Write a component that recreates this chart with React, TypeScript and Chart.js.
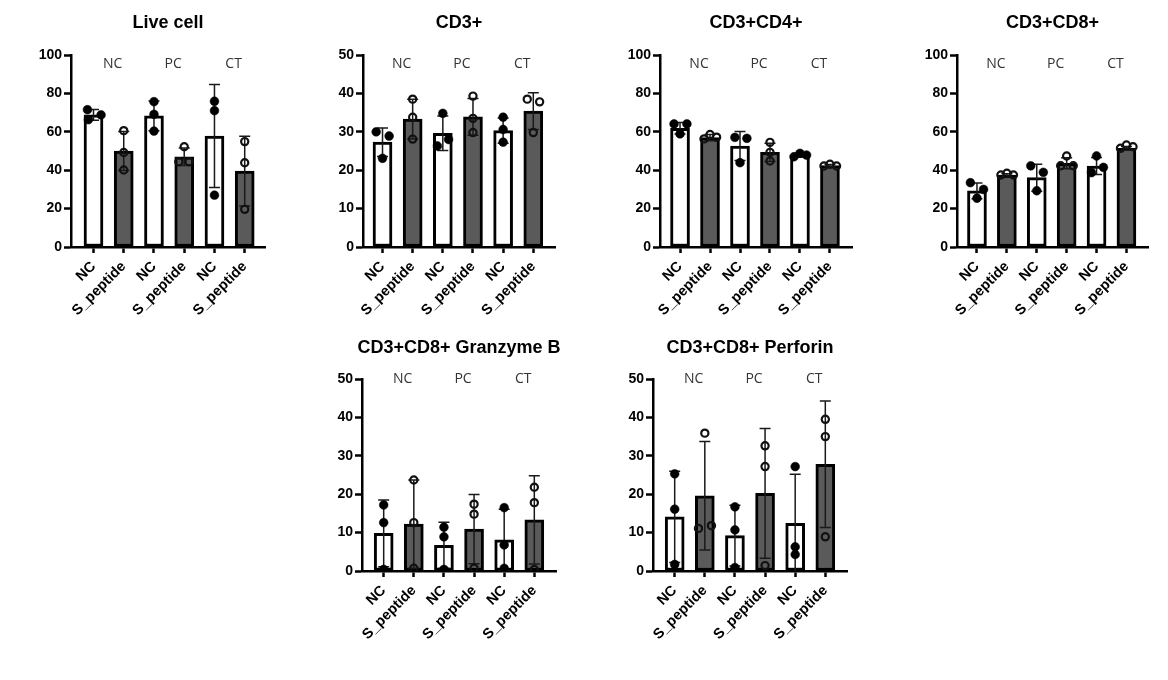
import React, { useEffect, useRef } from 'react';
import { Chart, registerables } from 'chart.js';

Chart.register(...registerables);

const categories = ['NC', 'S_peptide', 'NC', 'S_peptide', 'NC', 'S_peptide'];
const groupLabels = ['NC', 'PC', 'CT'];

// Live cell
const liveMeans = [68.8, 50.0, 68.3, 47.0, 57.8, 39.5];
const liveSD = [2.8, 10.2, 7.7, 4.5, 26.8, 18.2];
const livePoints = [[71.5, 68.8, 66.3], [60.6, 49.2, 40.1], [75.7, 69.1, 60.4], [52.2, 44.4, 44.4], [75.9, 71.0, 27.0], [54.9, 43.9, 19.6]];
const liveJitter = [[-0.2, 0.25, -0.17], [0, 0, 0], [0, 0, 0], [0, -0.18, 0.16], [0, 0, 0], [0, 0, 0]];

// CD3+
const cd3Means = [27.3, 33.3, 29.6, 33.9, 30.3, 35.4];
const cd3SD = [3.7, 5.2, 4.5, 4.8, 3.3, 4.8];
const cd3Points = [[30.0, 28.9, 23.1], [38.5, 33.8, 28.1], [34.8, 26.3, 28.0], [39.3, 33.5, 29.8], [33.8, 30.6, 27.3], [38.5, 37.8, 29.8]];
const cd3Jitter = [[-0.21, 0.22, 0], [0, 0, 0], [0, -0.18, 0.19], [0, 0, 0], [0, 0, 0], [-0.2, 0.21, 0]];

// CD3+CD4+
const cd4Means = [61.8, 57.0, 52.6, 49.3, 47.9, 42.4];
const cd4SD = [3.0, 1.6, 7.5, 4.8, 0.9, 0.6];
const cd4Points = [[64.1, 64.1, 58.9], [56.3, 58.6, 57.2], [57.1, 56.6, 43.9], [54.5, 49.3, 44.8], [47.0, 48.8, 47.9], [42.2, 43.1, 42.2]];
const cd4Jitter = [[-0.2, 0.23, 0], [-0.2, 0, 0.22], [-0.17, 0.23, 0], [0, 0, 0], [-0.2, 0, 0.22], [-0.2, 0, 0.22]];

// CD3+CD8+
const cd8Means = [29.2, 37.5, 36.1, 43.6, 42.2, 51.4];
const cd8SD = [4.1, 0.6, 7.0, 2.9, 4.4, 1.0];
const cd8Points = [[33.5, 30.0, 25.4], [37.5, 38.4, 37.5], [42.3, 38.9, 29.3], [47.4, 42.3, 42.3], [47.4, 41.5, 38.7], [51.4, 53.1, 52.2]];
const cd8Jitter = [[-0.22, 0.22, 0], [-0.2, 0, 0.22], [-0.2, 0.22, 0], [0, -0.2, 0.22], [0, 0.23, -0.17], [-0.2, 0, 0.22]];

// CD3+CD8+ Granzyme B
const gzbMeans = [9.8, 12.2, 6.7, 10.9, 8.1, 13.3];
const gzbSD = [8.7, 11.5, 6.0, 9.0, 8.0, 11.5];
const gzbPoints = [[17.2, 12.6, 0.4], [23.7, 12.6, 0.7], [11.4, 8.9, 0.4], [17.4, 14.8, 0.7], [16.5, 6.8, 0.7], [21.8, 17.8, 0.4]];
const gzbJitter = [[0, 0, 0], [0, 0, 0], [0, 0, 0], [0, 0, 0], [0, 0, 0], [0, 0, 0]];

// CD3+CD8+ Perforin
const prfMeans = [14.1, 19.6, 9.2, 20.2, 12.4, 27.8];
const prfSD = [11.9, 14.1, 7.9, 16.9, 12.8, 16.5];
const prfPoints = [[25.3, 16.1, 1.7], [35.9, 11.1, 11.8], [16.7, 10.7, 0.9], [32.6, 27.2, 1.4], [27.2, 6.3, 4.3], [39.5, 35.0, 8.9]];
const prfJitter = [[0, 0, 0], [0, -0.21, 0.22], [0, 0, 0], [0, 0, 0], [0, 0, 0], [0, 0, 0]];

const FONT = '"Liberation Sans", Arial, Helvetica, sans-serif';
const GROUP_FONT = '"Open Sans", "Noto Sans", sans-serif';
const Y_W = 70;
const PAD_T = 50;
const PAD_R = 12;
const X_H = 75;

type Panel = {
  title: string;
  means: number[];
  sds: number[];
  points: number[][];
  jitter: number[][];
  yMax: number;
  yStep: number;
  box: { left: number; right: number; top: number; bottom: number; xMin: number; xMax: number; groupDy: number; titleDy: number };
};

const panels: Panel[] = [
  { title: 'Live cell', means: liveMeans, sds: liveSD, points: livePoints, jitter: liveJitter, yMax: 100, yStep: 20,
    box: { left: 71, right: 265, top: 55, bottom: 247, xMin: -0.744, xMax: 5.671, groupDy: 9.5, titleDy: 32 } },
  { title: 'CD3+', means: cd3Means, sds: cd3SD, points: cd3Points, jitter: cd3Jitter, yMax: 50, yStep: 10,
    box: { left: 363, right: 555, top: 55, bottom: 247, xMin: -0.647, xMax: 5.72, groupDy: 9.5, titleDy: 32 } },
  { title: 'CD3+CD4+', means: cd4Means, sds: cd4SD, points: cd4Points, jitter: cd4Jitter, yMax: 100, yStep: 20,
    box: { left: 660, right: 852, top: 55, bottom: 247, xMin: -0.668, xMax: 5.735, groupDy: 9.5, titleDy: 32 } },
  { title: 'CD3+CD8+', means: cd8Means, sds: cd8SD, points: cd8Points, jitter: cd8Jitter, yMax: 100, yStep: 20,
    box: { left: 957, right: 1148, top: 55, bottom: 247, xMin: -0.668, xMax: 5.721, groupDy: 9.5, titleDy: 32 } },
  { title: 'CD3+CD8+ Granzyme B', means: gzbMeans, sds: gzbSD, points: gzbPoints, jitter: gzbJitter, yMax: 50, yStep: 10,
    box: { left: 362, right: 556, top: 379, bottom: 571, xMin: -0.72, xMax: 5.72, groupDy: 0, titleDy: 31 } },
  { title: 'CD3+CD8+ Perforin', means: prfMeans, sds: prfSD, points: prfPoints, jitter: prfJitter, yMax: 50, yStep: 10,
    box: { left: 653, right: 847, top: 379, bottom: 571, xMin: -0.72, xMax: 5.72, groupDy: 0, titleDy: 31 } },
];

function ChartPanel({ p }: { p: Panel }) {
  const ref = useRef<HTMLCanvasElement>(null);
  const b = p.box;
  const w = b.right + PAD_R - (b.left - Y_W);
  const h = b.bottom - b.top + PAD_T + X_H;

  useEffect(() => {
    if (!ref.current) return;
    const barData = p.means.map((m, i) => ({ x: i, y: m }));
    const ncPts: { x: number; y: number }[] = [];
    const spPts: { x: number; y: number }[] = [];
    p.points.forEach((arr, i) => {
      arr.forEach((v, k) => {
        const pt = { x: i + p.jitter[i][k], y: v };
        if (i % 2 === 0) ncPts.push(pt);
        else spPts.push(pt);
      });
    });

    const errPlugin = {
      id: 'errbars',
      afterDatasetDraw(chart: any, args: any) {
        if (args.meta.type !== 'bar') return;
        const ctx = chart.ctx;
        const ys = chart.scales.y;
        ctx.save();
        ctx.strokeStyle = '#1a1a1a';
        ctx.lineWidth = 1.5;
        args.meta.data.forEach((el: any, i: number) => {
          const m = p.means[i];
          const sd = p.sds[i];
          const x = el.x;
          const yt = ys.getPixelForValue(m + sd);
          const lowV = m - sd;
          const yb = ys.getPixelForValue(Math.max(lowV, 0));
          ctx.beginPath();
          ctx.moveTo(x, yt);
          ctx.lineTo(x, yb);
          ctx.moveTo(x - 5.5, yt);
          ctx.lineTo(x + 5.5, yt);
          if (lowV > 0) {
            ctx.moveTo(x - 5.5, yb);
            ctx.lineTo(x + 5.5, yb);
          }
          ctx.stroke();
        });
        ctx.restore();
      },
      afterDraw(chart: any) {
        const ctx = chart.ctx;
        const ca = chart.chartArea;
        const xs = chart.scales.x;
        ctx.save();
        ctx.fillStyle = '#000';
        ctx.font = `bold 18px ${FONT}`;
        ctx.textAlign = 'center';
        ctx.textBaseline = 'middle';
        ctx.fillText(p.title, (ca.left + ca.right) / 2, ca.top - b.titleDy);
        ctx.fillStyle = '#333';
        ctx.font = `14px ${GROUP_FONT}`;
        groupLabels.forEach((g, gi) => {
          const cx = (xs.getPixelForValue(gi * 2) + xs.getPixelForValue(gi * 2 + 1)) / 2 + 4;
          ctx.fillText(g, cx, ca.top + b.groupDy);
        });
        ctx.restore();
      },
    };

    const chart = new Chart(ref.current, {
      type: 'bar',
      data: {
        datasets: [
          {
            type: 'bar',
            data: barData as any,
            backgroundColor: p.means.map((_, i) => (i % 2 === 0 ? '#ffffff' : '#5a5a5a')),
            borderColor: '#000',
            borderWidth: 3,
            borderSkipped: false,
            barThickness: 19,
            order: 3,
          } as any,
          {
            type: 'scatter',
            data: spPts as any,
            pointRadius: 3.6,
            pointBorderWidth: 2.2,
            pointBackgroundColor: 'rgba(0,0,0,0)',
            pointBorderColor: '#111',
            order: 2,
          } as any,
          {
            type: 'scatter',
            data: ncPts as any,
            pointRadius: 4.4,
            pointBorderWidth: 0.5,
            pointBackgroundColor: '#000',
            pointBorderColor: '#000',
            order: 1,
          } as any,
        ],
      },
      options: {
        responsive: false,
        maintainAspectRatio: false,
        animation: false,
        devicePixelRatio: 1,
        events: [],
        layout: { padding: { left: 0, top: PAD_T, right: PAD_R, bottom: 0 } },
        plugins: { legend: { display: false }, tooltip: { enabled: false }, title: { display: false } },
        scales: {
          x: {
            type: 'linear',
            min: b.xMin,
            max: b.xMax,
            offset: false,
            grid: { display: true, offset: false, drawOnChartArea: false, drawTicks: true, tickLength: 6, tickWidth: 2.5, tickColor: '#000' },
            border: { display: true, color: '#000', width: 2.5 },
            ticks: {
              stepSize: 1,
              includeBounds: false,
              autoSkip: false,
              minRotation: 45,
              maxRotation: 45,
              padding: 5,
              color: '#000',
              font: { family: FONT, size: 14.5, weight: 'bold' },
              callback: (v: any) => (Number.isInteger(v) && v >= 0 && v < categories.length ? categories[v] : ''),
            },
            afterFit: (s: any) => { s.height = X_H; },
          } as any,
          y: {
            type: 'linear',
            min: 0,
            max: p.yMax,
            grid: { display: true, drawOnChartArea: false, drawTicks: true, tickLength: 7, tickWidth: 2.5, tickColor: '#000' },
            border: { display: true, color: '#000', width: 2.5 },
            ticks: {
              stepSize: p.yStep,
              padding: 2,
              color: '#000',
              font: { family: FONT, size: 14, weight: 'bold' },
            },
            afterFit: (s: any) => { s.width = Y_W; },
          } as any,
        },
      },
      plugins: [errPlugin],
    });
    return () => chart.destroy();
  }, []);

  return (
    <canvas
      ref={ref}
      width={w}
      height={h}
      style={{ position: 'absolute', left: b.left - Y_W, top: b.top - PAD_T, width: w, height: h }}
    />
  );
}

export default function App() {
  return (
    <div style={{ position: 'absolute', left: 0, top: 0, width: 1168, height: 680, background: '#fff' }}>
      {panels.map((p, i) => (
        <ChartPanel key={i} p={p} />
      ))}
    </div>
  );
}
